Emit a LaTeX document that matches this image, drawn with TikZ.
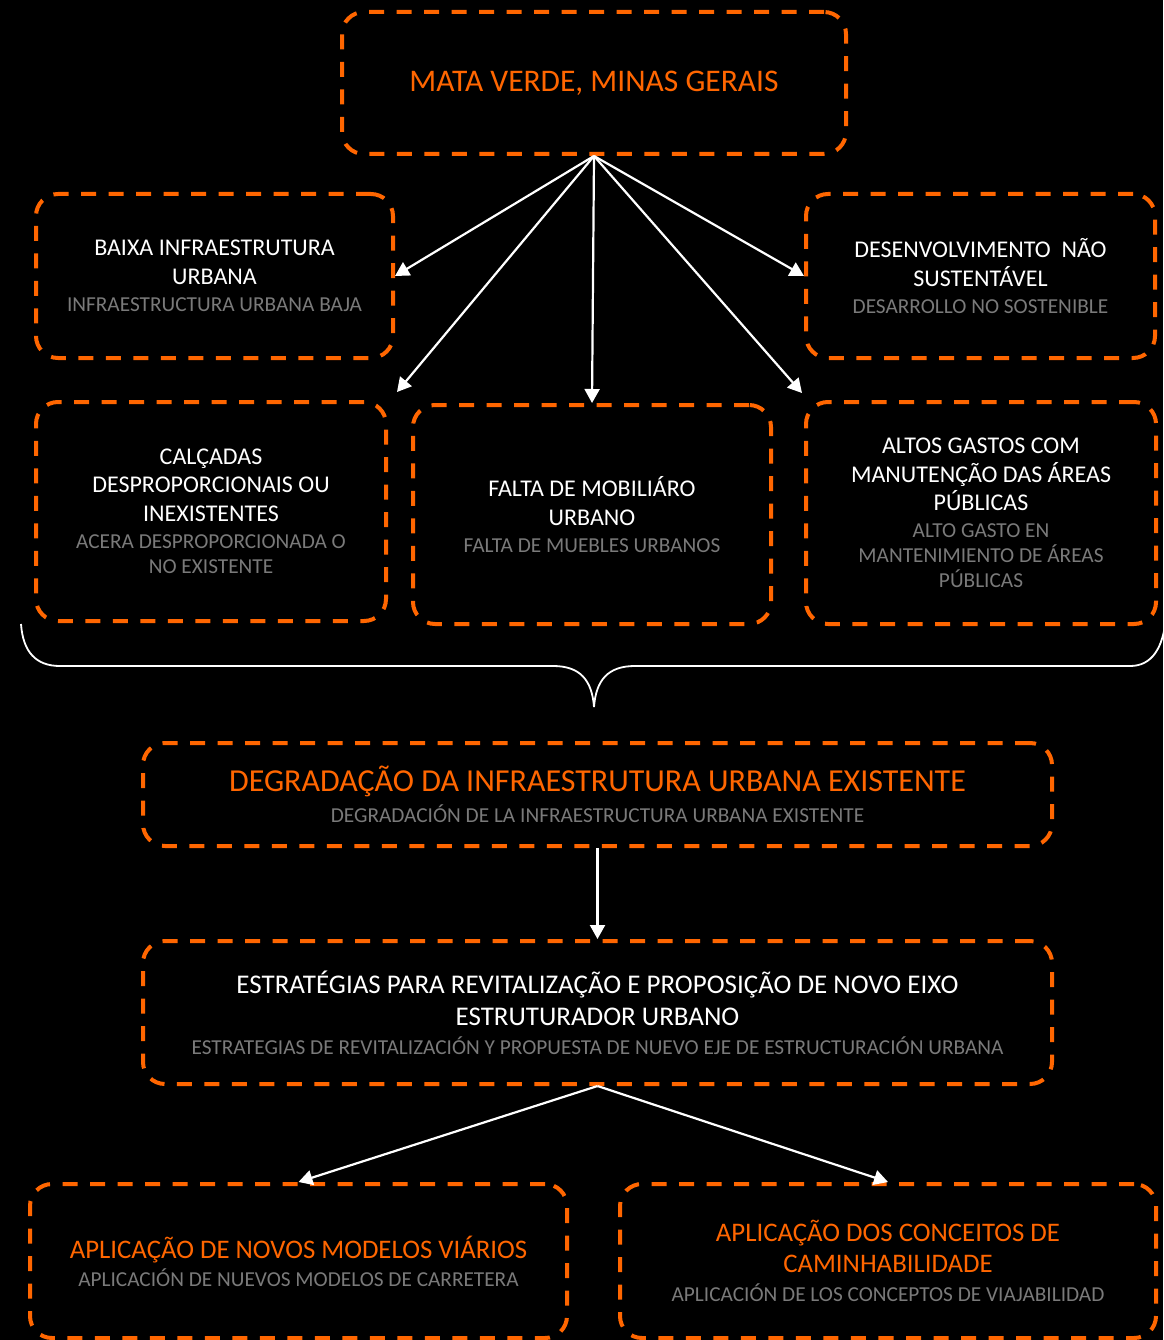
\documentclass[tikz,border=0pt]{standalone}
\usepackage{fontspec}
\setmainfont{Carlito}
\usetikzlibrary{arrows.meta}
\definecolor{orng}{HTML}{FF6600}
\definecolor{subc}{HTML}{7A7A7A}
\newcommand\graytxt[1]{{\color{subc}\fontsize{21.3}{25}\selectfont #1}}
\begin{document}
\begin{tikzpicture}[x=1pt,y=-1pt,
 box/.style={draw=orng, line width=4pt, dash pattern=on 15pt off 12.5pt, rounded corners=22pt, inner sep=0pt, align=center, text=white},
 arr/.style={draw=white, line width=2.2pt, -{Triangle[length=14pt,width=15pt]}},
 small/.style={font=\fontsize{24}{27}\selectfont},
]
\fill[black] (0,0) rectangle (1163,1340);
\useasboundingbox (0,0) rectangle (1163,1340);

\node[box, text=orng, font=\fontsize{31.5}{37}\selectfont, minimum width=504pt, minimum height=142pt] (top) at (594,83) {MATA VERDE, MINAS GERAIS};

\node[box, small, minimum width=357pt, minimum height=164pt] (baixa) at (214.5,276)
 {BAIXA INFRAESTRUTURA\\[2pt]URBANA\\\graytxt{INFRAESTRUCTURA URBANA BAJA}};
\node[box, small, minimum width=349pt, minimum height=164pt] (desenv) at (980.5,276)
 {DESENVOLVIMENTO~~NÃO\\[2pt]SUSTENTÁVEL\\\graytxt{DESARROLLO NO SOSTENIBLE}};

\node[box, small, minimum width=350pt, minimum height=219pt] (calc) at (211,511.5)
 {CALÇADAS\\[1.5pt]DESPROPORCIONAIS OU\\[1.5pt]INEXISTENTES\\\graytxt{ACERA DESPROPORCIONADA O}\\[-1.5pt]\graytxt{NO EXISTENTE}};
\node[box, small, minimum width=358pt, minimum height=219pt] (falta) at (592,514.5)
 {FALTA DE MOBILIÁRO\\[2pt]URBANO\\\graytxt{FALTA DE MUEBLES URBANOS}};
\node[box, small, minimum width=350pt, minimum height=222pt] (altos) at (981,513)
 {ALTOS GASTOS COM\\[1.5pt]MANUTENÇÃO DAS ÁREAS\\[1.5pt]PÚBLICAS\\\graytxt{ALTO GASTO EN}\\[-2pt]\graytxt{MANTENIMIENTO DE ÁREAS}\\[-2pt]\graytxt{PÚBLICAS}};

\node[box, text=orng, font=\fontsize{32}{31}\selectfont, minimum width=909pt, minimum height=103pt] (degr) at (597.5,794.5)
 {DEGRADAÇÃO DA INFRAESTRUTURA URBANA EXISTENTE\\\graytxt{DEGRADACIÓN DE LA INFRAESTRUCTURA URBANA EXISTENTE}};

\node[box, font=\fontsize{27}{32}\selectfont, minimum width=909pt, minimum height=143pt] (estr) at (597.5,1012.5)
 {ESTRATÉGIAS PARA REVITALIZAÇÃO E PROPOSIÇÃO DE NOVO EIXO\\ESTRUTURADOR URBANO\\[-3pt]\graytxt{ESTRATEGIAS DE REVITALIZACIÓN Y PROPUESTA DE NUEVO EJE DE ESTRUCTURACIÓN URBANA}};

\node[box, text=orng, font=\fontsize{26.8}{28}\selectfont, minimum width=537pt, minimum height=154pt] (modelos) at (298.5,1261)
 {APLICAÇÃO DE NOVOS MODELOS VIÁRIOS\\\graytxt{APLICACIÓN DE NUEVOS MODELOS DE CARRETERA}};
\node[box, text=orng, font=\fontsize{26.8}{31}\selectfont, minimum width=536pt, minimum height=154pt] (conc) at (888,1261)
 {APLICAÇÃO DOS CONCEITOS DE\\CAMINHABILIDADE\\[-2pt]\graytxt{APLICACIÓN DE LOS CONCEPTOS DE VIAJABILIDAD}};

\draw[arr] (top.south) -- (baixa.east);
\draw[arr] (top.south) -- ([xshift=9pt,yshift=8pt]calc.north east);
\draw[arr] (top.south) -- (falta.north);
\draw[arr] (top.south) -- ([xshift=-2pt,yshift=7pt]altos.north west);
\draw[arr] (top.south) -- (desenv.west);
\draw[arr] (degr.south) -- (estr.north);
\draw[arr] (estr.south) -- (modelos.north);
\draw[arr] (estr.south) -- (conc.north);

\draw[white, line width=1.8pt] (21,624) .. controls (23,652) and (36,666) .. (60,666) -- (553,666)
  .. controls (580,666) and (592,680) .. (594,707)
  .. controls (596,680) and (608,666) .. (635,666) -- (1130,666)
  .. controls (1152,666) and (1163,648) .. (1166,618);
\end{tikzpicture}
\end{document}
